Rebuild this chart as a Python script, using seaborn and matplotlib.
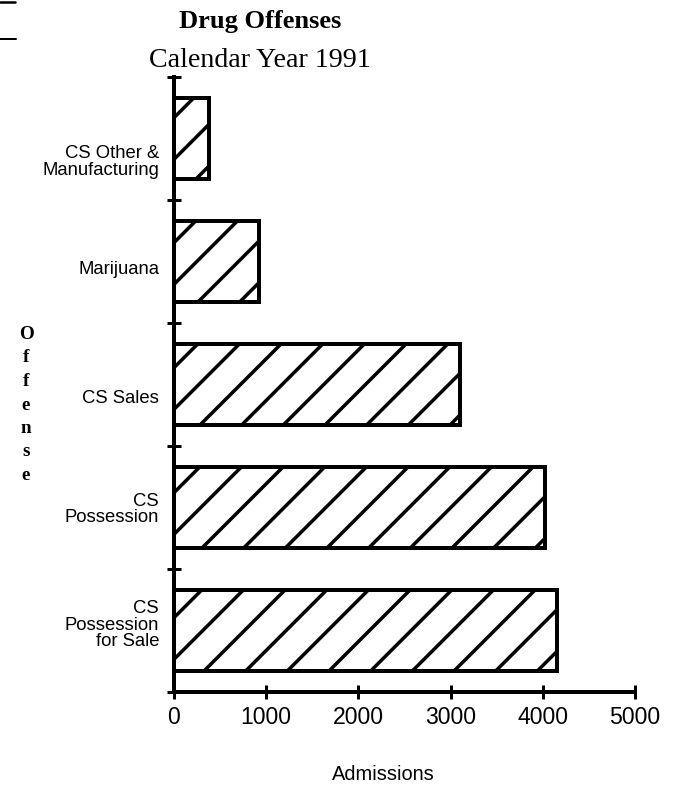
import numpy as np
import pandas as pd
import matplotlib
matplotlib.use("Agg")
import matplotlib.pyplot as plt
import matplotlib.transforms as mtrans
from matplotlib.lines import Line2D
import seaborn as sns

# ---- data ----
offenses = ["CS Other &\nManufacturing", "Marijuana", "CS Sales",
            "CS\nPossession", "CS\nPossession\nfor Sale"]
admissions = [380, 925, 3100, 4020, 4150]
x_ticks = [0, 1000, 2000, 3000, 4000, 5000]
title_line1 = "Drug Offenses"
title_line2 = "Calendar Year 1991"
x_label = "Admissions"
y_label = "Offense"

# ---- geometry helpers ----
DPI = 250
W, H = 682, 785


def pt(px):
    return px * 72.0 / DPI


sns.set_style("ticks")
plt.rcParams["font.family"] = ["Liberation Sans", "DejaVu Sans"]
plt.rcParams["text.color"] = "black"
plt.rcParams["axes.labelcolor"] = "black"
plt.rcParams["xtick.color"] = "black"
plt.rcParams["ytick.color"] = "black"
plt.rcParams["hatch.linewidth"] = pt(3.5)
plt.rcParams["hatch.color"] = "black"

fig = plt.figure(figsize=(W / DPI, H / DPI), dpi=DPI)
fig.patch.set_facecolor("white")
ax = fig.add_axes([174 / W, 1 - 692 / H, (635 - 174) / W, (692 - 77) / H])

df = pd.DataFrame({"Offense": offenses, "Admissions": admissions})
sns.barplot(data=df, x="Admissions", y="Offense", orient="h", color="white",
            saturation=1, edgecolor="black", linewidth=pt(4), width=0.66,
            hatch="//", errorbar=None, ax=ax)

ax.set_facecolor("white")
ax.set_xlim(0, 5000)
ax.set_ylim(4.5, -0.5)
ax.set_xticks(x_ticks)
ax.set_xticklabels([str(v) for v in x_ticks])
ax.set_yticks(range(len(offenses)))
ax.set_yticklabels(offenses)
ax.set_yticks(np.arange(-0.5, len(offenses), 1.0), minor=True)

for s in ["top", "right"]:
    ax.spines[s].set_visible(False)
for s in ["left", "bottom"]:
    ax.spines[s].set_linewidth(pt(4))
    ax.spines[s].set_color("black")

ax.tick_params(axis="x", which="major", direction="inout", length=pt(14),
               width=pt(3), labelsize=pt(23), pad=pt(7), colors="black")
ax.tick_params(axis="y", which="major", length=0, labelsize=pt(18.5),
               pad=pt(15), colors="black")
ax.tick_params(axis="y", which="minor", direction="inout", length=pt(14),
               width=pt(3), colors="black")

for lab in ax.get_yticklabels():
    lab.set_linespacing(0.95)

# nudge category labels like the original
offsets_px = [22, 6, 12, 0, -7]
for lab, dy in zip(ax.get_yticklabels(), offsets_px):
    lab.set_transform(lab.get_transform() +
                      mtrans.ScaledTranslation(0, -dy / DPI, fig.dpi_scale_trans))

ax.set_xlabel(x_label, fontsize=pt(20), color="black")
ax.xaxis.set_label_coords((383 - 174) / (635 - 174), (692 - 775) / (692 - 77))
ax.xaxis.label.set_verticalalignment("center")

ax.set_ylabel("\n".join(y_label), rotation=0, fontsize=pt(19),
              family=["Liberation Serif", "DejaVu Serif"], fontweight="bold",
              linespacing=1.5, color="black")
ax.yaxis.set_label_coords((26 - 174) / (635 - 174), (692 - 405) / (692 - 77))
ax.yaxis.label.set_verticalalignment("center")
ax.yaxis.label.set_horizontalalignment("center")

fig.text(260 / W, 1 - 28 / H, title_line1, ha="center", va="baseline",
         fontsize=pt(26.5), fontweight="bold", color="black",
         family=["Liberation Serif", "DejaVu Serif"])
fig.text(260 / W, 1 - 67 / H, title_line2, ha="center", va="baseline",
         fontsize=pt(28), color="black",
         family=["Liberation Serif", "DejaVu Serif"])

# small marks in the top-left corner of the scan
fig.add_artist(Line2D([0, 15 / W], [1 - 1.5 / H, 1 - 1.5 / H],
                      transform=fig.transFigure, color="black", lw=pt(2.5)))
fig.add_artist(Line2D([0, 16 / W], [1 - 39 / H, 1 - 39 / H],
                      transform=fig.transFigure, color="black", lw=pt(2)))

fig.savefig("out.png", dpi=DPI, facecolor="white")
